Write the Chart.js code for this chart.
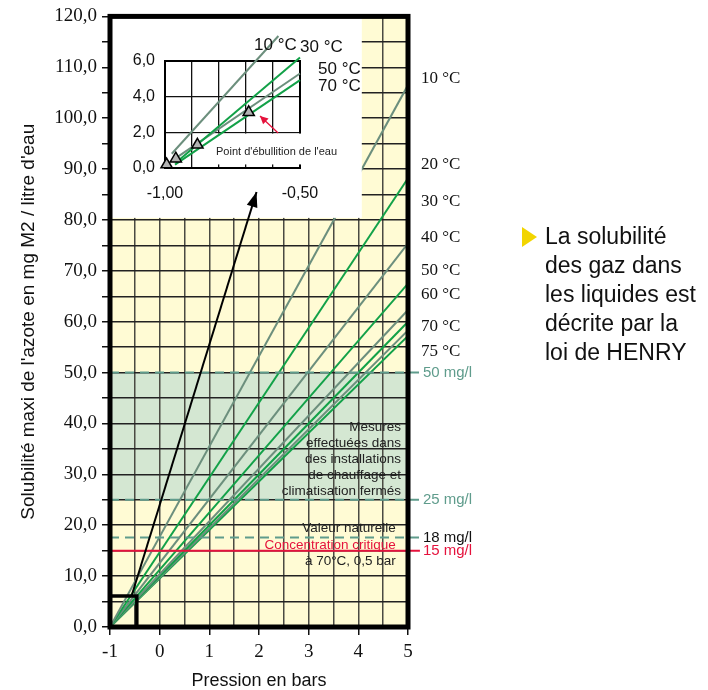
<!DOCTYPE html>
<html lang="fr">
<head>
<meta charset="utf-8">
<script src="https://cdn.jsdelivr.net/npm/chart.js@4.4.1/dist/chart.umd.min.js"></script>
<style>
  html, body { margin: 0; padding: 0; background: #fff; }
  #wrap { position: relative; width: 708px; height: 690px; overflow: hidden; }
  #mainChart { position: absolute; left: 0; top: 0; }
  #insetChart { position: absolute; left: 0; top: 0; }
  #note { position: absolute; left: 545px; top: 222px; font-family: "Liberation Sans", Arial, sans-serif; font-size: 23px; line-height: 29px; color: #111; }
  #note .mark { position: absolute; left: -23px; top: 5px; width: 0; height: 0;
    border-left: 15px solid #f2d500; border-top: 10px solid transparent; border-bottom: 10px solid transparent; }
</style>
</head>
<body>
<div id="wrap">
  <canvas id="mainChart" width="708" height="690"></canvas>
  <canvas id="insetChart"></canvas>
  <div id="note"><span class="mark"></span>La solubilité<br>des gaz dans<br>les liquides est<br>décrite par la<br>loi de HENRY</div>
</div>
<script>
// ------------------------------------------------------------
// DATA
// ------------------------------------------------------------
const xRange = [-1, 5];
const yRange = [0, 120];

// solubility lines, all from (-1 bar, 0) up to the value read at 5 bars
const tempNames = ['10 °C', '20 °C', '30 °C', '40 °C', '50 °C', '60 °C', '70 °C', '75 °C'];
const tempStart = [-1, 0];
const tempAt5bar = [106.5, 88.2, 75.4, 67.5, 62.3, 60.0, 58.3, 57.2];

// reference levels in mg/l
const refLevels = [50, 25, 17.6, 15];
const refNames = ['50 mg/l', '25 mg/l', '18 mg/l', '15 mg/l'];
const bandRange = [25, 50];

// zoom box and arrow to the inset
const zoomBoxX = [-1, -0.46];
const zoomBoxY = [0, 6.1];
const arrowX = [-0.56, 1.95];
const arrowY = [6.3, 85.5];

// inset (zoom on -1 .. -0.5 bar)
const insetXRange = [-1, -0.5];
const insetYRange = [0, 6];
const insetNames = ['10 °C', '30 °C', '50 °C', '70 °C'];
const insetStartX = [-0.975, -0.96, -0.96, -0.963];
const insetStartY = [0.8, 0.3, 0.55, 0.19];
const insetEndX = [-0.58, -0.5, -0.5, -0.5];
const insetEndY = [7.4, 6.2, 5.3, 4.93];
const boilX = [-0.994, -0.96, -0.88, -0.69];
const boilY = [0.19, 0.52, 1.3, 3.12];

// ------------------------------------------------------------
// ANNOTATION LAYOUT (value coordinates)
// ------------------------------------------------------------
const tempLabelX = 5.26;
const tempLabelY = [107.8, 90.8, 83.7, 76.5, 70.1, 65.4, 59.1, 54.2];
const refLineEnd = 5.24;
const refLabelX = 5.3;
const noteLines = ['Mesures', 'effectuées dans', 'des installations', 'de chauffage et', 'climatisation fermés'];
const noteLineY = [39.3, 36.1, 33.0, 29.9, 26.7];
const noteX = 4.86;
const levelNotes = ['Valeur naturelle', 'Concentration critique', 'à 70°C, 0,5 bar'];
const levelNoteY = [19.45, 16.1, 13.0];
const levelNoteX = 4.755;
const insetPanelX = [-1, 4.07];
const insetPanelY = [80.4, 120];
const insetLabelX = [-0.67, -0.5, -0.433, -0.433];
const insetLabelY = [6.87, 6.79, 5.55, 4.6];
const insetCutX = [-0.895, -0.49];
const insetCutY = [0.2, 1.93];
const boilNoteX = -0.811;
const boilNoteY = 0.9;
const redArrowX = [-0.581, -0.648];
const redArrowY = [1.96, 2.92];

// ------------------------------------------------------------
// STYLE
// ------------------------------------------------------------
const GREY = '#6c8f7d', GREEN = '#12a148', TEAL = '#5f9c8c', RED = '#e5123c';
const BG = '#fffbd4', BAND = '#d4e7d2';
const SANS = '"Liberation Sans", Arial, sans-serif';
const SERIF = '"Liberation Serif", "Times New Roman", serif';

function drawArrowHead(ctx, x0, y0, x1, y1, len, half, color) {
  const a = Math.atan2(y1 - y0, x1 - x0);
  const bx = x1 - len * Math.cos(a), by = y1 - len * Math.sin(a);
  ctx.save();
  ctx.fillStyle = color;
  ctx.beginPath();
  ctx.moveTo(x1, y1);
  ctx.lineTo(bx + half * Math.sin(a), by - half * Math.cos(a));
  ctx.lineTo(bx - half * Math.sin(a), by + half * Math.cos(a));
  ctx.closePath();
  ctx.fill();
  ctx.restore();
}

// ------------------------------------------------------------
// MAIN CHART
// ------------------------------------------------------------
const mainDatasets = [];
// 0: arrow (drawn on top)
mainDatasets.push({
  data: arrowX.map((x, i) => ({ x, y: arrowY[i] })),
  borderColor: '#000', borderWidth: 2, pointRadius: 0, clip: false
});
// 1: zoom box
mainDatasets.push({
  data: [
    { x: zoomBoxX[0], y: zoomBoxY[0] }, { x: zoomBoxX[1], y: zoomBoxY[0] },
    { x: zoomBoxX[1], y: zoomBoxY[1] }, { x: zoomBoxX[0], y: zoomBoxY[1] },
    { x: zoomBoxX[0], y: zoomBoxY[0] }
  ],
  borderColor: '#000', borderWidth: 3.5, pointRadius: 0, clip: false
});
// reference levels
refLevels.forEach((v, i) => {
  mainDatasets.push({
    data: [{ x: xRange[0], y: v }, { x: refLineEnd, y: v }],
    borderColor: i === 3 ? RED : TEAL,
    borderWidth: 2,
    borderDash: i === 3 ? [] : [9, 6],
    pointRadius: 0, clip: false
  });
});
// temperature lines
tempNames.forEach((name, i) => {
  mainDatasets.push({
    label: name,
    data: [{ x: tempStart[0], y: tempStart[1] }, { x: xRange[1], y: tempAt5bar[i] }],
    borderColor: i % 2 === 0 ? GREY : GREEN,
    borderWidth: 2, pointRadius: 0
  });
});

const mainDecor = {
  id: 'mainDecor',
  beforeDraw(chart) {
    const { ctx, chartArea: a, scales: { y } } = chart;
    ctx.save();
    ctx.fillStyle = BG;
    ctx.fillRect(a.left, a.top, a.right - a.left, a.bottom - a.top);
    const b0 = y.getPixelForValue(bandRange[1]), b1 = y.getPixelForValue(bandRange[0]);
    ctx.fillStyle = BAND;
    ctx.fillRect(a.left, b0, a.right - a.left, b1 - b0);
    ctx.restore();
  },
  beforeDatasetDraw(chart, args) {
    if (args.index !== 0) return;
    const { ctx, scales: { x, y } } = chart;
    const l = x.getPixelForValue(insetPanelX[0]), r = x.getPixelForValue(insetPanelX[1]);
    const t = y.getPixelForValue(insetPanelY[1]), b = y.getPixelForValue(insetPanelY[0]);
    ctx.save();
    ctx.fillStyle = '#fff';
    ctx.fillRect(l, t, r - l, b - t);
    ctx.restore();
  },
  afterDatasetDraw(chart, args) {
    if (args.index !== 0) return;
    const { ctx, scales: { x, y } } = chart;
    drawArrowHead(ctx, x.getPixelForValue(arrowX[0]), y.getPixelForValue(arrowY[0]),
      x.getPixelForValue(arrowX[1]), y.getPixelForValue(arrowY[1]), 15, 5.5, '#000');
  },
  afterDraw(chart) {
    const { ctx, chartArea: a, scales: { x, y } } = chart;
    ctx.save();
    ctx.lineWidth = 5;
    ctx.strokeStyle = '#000';
    ctx.strokeRect(a.left, a.top, a.right - a.left, a.bottom - a.top);

    ctx.textBaseline = 'middle';
    ctx.textAlign = 'left';
    ctx.fillStyle = '#111';
    ctx.font = '17px ' + SERIF;
    tempNames.forEach((n, i) => ctx.fillText(n, x.getPixelForValue(tempLabelX), y.getPixelForValue(tempLabelY[i])));

    ctx.font = '15px ' + SANS;
    refNames.forEach((n, i) => {
      ctx.fillStyle = i === 3 ? RED : (i === 2 ? '#111' : TEAL);
      ctx.fillText(n, x.getPixelForValue(refLabelX), y.getPixelForValue(refLevels[i]));
    });

    ctx.textAlign = 'right';
    ctx.font = '13.5px ' + SANS;
    ctx.fillStyle = '#222';
    noteLines.forEach((n, i) => ctx.fillText(n, x.getPixelForValue(noteX), y.getPixelForValue(noteLineY[i])));
    levelNotes.forEach((n, i) => {
      ctx.fillStyle = i === 1 ? RED : '#222';
      ctx.fillText(n, x.getPixelForValue(levelNoteX), y.getPixelForValue(levelNoteY[i]));
    });
    ctx.restore();
  }
};

const mainChart = new Chart(document.getElementById('mainChart'), {
  type: 'line',
  data: { datasets: mainDatasets },
  options: {
    responsive: false,
    animation: false,
    events: [],
    layout: { padding: { top: 16, right: 300, bottom: 0, left: 0 } },
    plugins: { legend: { display: false }, tooltip: { enabled: false } },
    scales: {
      x: {
        type: 'linear', min: xRange[0], max: xRange[1],
        afterFit: s => { s.height = 63; },
        border: { display: false },
        grid: {
          color: '#4a4a42', lineWidth: 1.5, tickLength: 8,
          tickColor: c => (c.tick && Number.isInteger(c.tick.value)) ? '#111' : 'rgba(0,0,0,0)'
        },
        ticks: {
          stepSize: 0.5, autoSkip: false, maxRotation: 0, padding: 6, color: '#111',
          font: { family: SERIF, size: 19 },
          callback: v => Number.isInteger(v) ? String(v) : ''
        },
        title: {
          display: true, text: 'Pression en bars', color: '#111',
          font: { family: SANS, size: 18, lineHeight: 1 }, padding: { top: 0, bottom: 0 }
        }
      },
      y: {
        type: 'linear', min: yRange[0], max: yRange[1],
        afterFit: s => { s.width = 110; },
        border: { display: false },
        grid: { color: '#222', lineWidth: 1.5, tickLength: 8, tickColor: '#111' },
        ticks: {
          stepSize: 5, autoSkip: false, padding: 5, color: '#111',
          font: { family: SERIF, size: 19 },
          callback: v => v % 10 === 0 ? v.toFixed(1).replace('.', ',') : ''
        },
        title: {
          display: true, text: "Solubilité maxi de l'azote en mg M2 / litre d'eau", color: '#111',
          font: { family: SANS, size: 19, lineHeight: 1 }, padding: { top: 19, bottom: 0 }
        }
      }
    }
  },
  plugins: [mainDecor]
});

// ------------------------------------------------------------
// INSET CHART
// ------------------------------------------------------------
const mx = mainChart.scales.x, my = mainChart.scales.y;
const panelL = Math.round(mx.getPixelForValue(insetPanelX[0]));
const panelT = Math.round(my.getPixelForValue(insetPanelY[1]));
const panelW = Math.round(mx.getPixelForValue(insetPanelX[1])) - panelL;
const panelH = Math.round(my.getPixelForValue(insetPanelY[0])) - panelT;
const insetCanvas = document.getElementById('insetChart');
insetCanvas.width = panelW + 10;
insetCanvas.height = panelH;
insetCanvas.style.left = panelL + 'px';
insetCanvas.style.top = panelT + 'px';

const insetDatasets = [];
insetDatasets.push({
  data: boilX.map((x, i) => ({ x, y: boilY[i] })),
  showLine: false, pointStyle: 'triangle', pointRadius: 6.5,
  backgroundColor: '#b3b3b3', borderColor: '#000', borderWidth: 1.5, clip: false
});
insetNames.forEach((n, i) => {
  insetDatasets.push({
    label: n,
    data: [{ x: insetStartX[i], y: insetStartY[i] }, { x: insetEndX[i], y: insetEndY[i] }],
    borderColor: i % 2 === 0 ? GREY : GREEN, borderWidth: 2, pointRadius: 0, clip: false
  });
});

const insetDecor = {
  id: 'insetDecor',
  beforeDatasetsDraw(chart) {
    const { ctx, chartArea: a, scales: { x, y } } = chart;
    ctx.save();
    ctx.lineWidth = 2;
    ctx.strokeStyle = '#000';
    ctx.strokeRect(a.left, a.top, a.right - a.left, a.bottom - a.top);
    const l = x.getPixelForValue(insetCutX[0]), r = x.getPixelForValue(insetCutX[1]);
    const t = y.getPixelForValue(insetCutY[1]), b = y.getPixelForValue(insetCutY[0]);
    ctx.fillStyle = '#fff';
    ctx.fillRect(l, t, r - l, b - t);
    ctx.restore();
  },
  afterDatasetsDraw(chart) {
    const { ctx, scales: { x, y } } = chart;
    ctx.save();
    ctx.textBaseline = 'middle';
    ctx.textAlign = 'left';
    ctx.fillStyle = '#111';
    ctx.font = '17px ' + SANS;
    insetNames.forEach((n, i) => ctx.fillText(n, x.getPixelForValue(insetLabelX[i]), y.getPixelForValue(insetLabelY[i])));
    ctx.font = '11px ' + SANS;
    ctx.fillStyle = '#222';
    ctx.fillText("Point d'ébullition de l'eau", x.getPixelForValue(boilNoteX), y.getPixelForValue(boilNoteY));
    const x0 = x.getPixelForValue(redArrowX[0]), y0 = y.getPixelForValue(redArrowY[0]);
    const x1 = x.getPixelForValue(redArrowX[1]), y1 = y.getPixelForValue(redArrowY[1]);
    ctx.strokeStyle = RED;
    ctx.lineWidth = 1.3;
    ctx.beginPath();
    ctx.moveTo(x0, y0);
    ctx.lineTo(x1, y1);
    ctx.stroke();
    drawArrowHead(ctx, x0, y0, x1, y1, 8, 4, RED);
    ctx.restore();
  }
};

new Chart(insetCanvas, {
  type: 'line',
  data: { datasets: insetDatasets },
  options: {
    responsive: false,
    animation: false,
    events: [],
    layout: { padding: { top: 45, right: panelW + 10 - 190, bottom: 0, left: 0 } },
    plugins: { legend: { display: false }, tooltip: { enabled: false } },
    scales: {
      x: {
        type: 'linear', min: insetXRange[0], max: insetXRange[1],
        afterFit: s => { s.height = panelH - 152; },
        border: { display: false },
        grid: { color: '#111', lineWidth: 1.3, drawTicks: false },
        ticks: {
          stepSize: 0.1, autoSkip: false, maxRotation: 0, padding: 16, color: '#111',
          font: { family: SANS, size: 16 },
          callback: v => Math.abs(v + 1) < 1e-6 ? '-1,00' : (Math.abs(v + 0.5) < 1e-6 ? '-0,50' : '')
        }
      },
      y: {
        type: 'linear', min: insetYRange[0], max: insetYRange[1],
        afterFit: s => { s.width = 55; },
        border: { display: false },
        grid: { color: '#111', lineWidth: 1.3, drawTicks: false },
        ticks: {
          stepSize: 2, autoSkip: false, padding: 10, color: '#111',
          font: { family: SANS, size: 16 },
          callback: v => v.toFixed(1).replace('.', ',')
        }
      }
    }
  },
  plugins: [insetDecor]
});
</script>
</body>
</html>
